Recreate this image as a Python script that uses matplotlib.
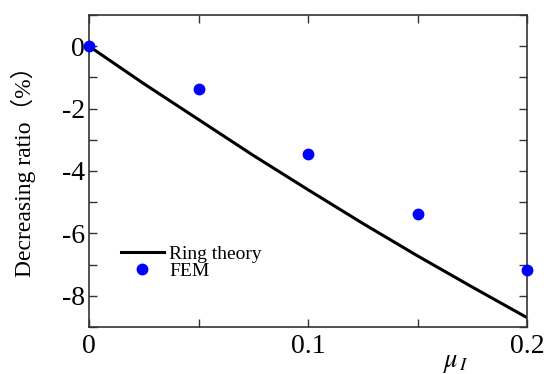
import numpy as np
import matplotlib.pyplot as plt
from matplotlib.ticker import MultipleLocator

plt.rcParams['font.family'] = ['Liberation Serif', 'Noto Sans CJK JP']
plt.rcParams['mathtext.fontset'] = 'stix'

# Ring theory curve
mu_ring = [0.0, 0.025, 0.05, 0.075, 0.1, 0.125, 0.15, 0.175, 0.2]
ratio_ring = [0.0, -1.2, -2.35, -3.5, -4.6, -5.68, -6.72, -7.72, -8.7]

# FEM results
mu_fem = [0.0, 0.05, 0.1, 0.15, 0.2]
ratio_fem = [0.0, -1.38, -3.45, -5.38, -7.17]

fig = plt.figure(figsize=(5.44, 3.74), dpi=100)
ax = fig.add_axes([0.1636, 0.1257, 0.8052, 0.8342])

ax.plot(mu_ring, ratio_ring, color='black', lw=2.2, label='Ring theory')
ax.plot(mu_fem, ratio_fem, 'o', color='#0000ff', ms=7.5, clip_on=False,
        zorder=5, label='FEM')

ax.set_xlim(0, 0.2)
ax.set_ylim(-9, 1)
ax.xaxis.set_minor_locator(MultipleLocator(0.05))
ax.yaxis.set_minor_locator(MultipleLocator(1))
ax.set_xticks([0, 0.1, 0.2])
ax.set_xticklabels(['0', '0.1', '0.2'])
ax.set_yticks([0, -2, -4, -6, -8])
ax.set_yticklabels(['0', '-2', '-4', '-6', '-8'])

ax.tick_params(which='both', direction='in', top=True, right=True,
               labelsize=20, width=1, colors='#333333', labelcolor='black')
ax.tick_params(which='major', length=6)
ax.tick_params(axis='y', pad=3)
ax.tick_params(axis='x', pad=5)
ax.tick_params(which='minor', length=6)
for s in ax.spines.values():
    s.set_linewidth(1.2)
    s.set_color('#333333')

ax.set_ylabel('Decreasing ratio（%）', fontsize=17)
ax.yaxis.set_label_coords(-0.122, 0.515)
fig.text(0.838, 0.02, r'$\mu_{\,I}$', fontsize=19, ha='center')

ax.legend(loc='lower left', bbox_to_anchor=(0.055, 0.125), frameon=False,
          fontsize=14, handlelength=2.2, handletextpad=0.3,
          labelspacing=0.0, borderaxespad=0.0)

fig.savefig('out.png', dpi=100)
